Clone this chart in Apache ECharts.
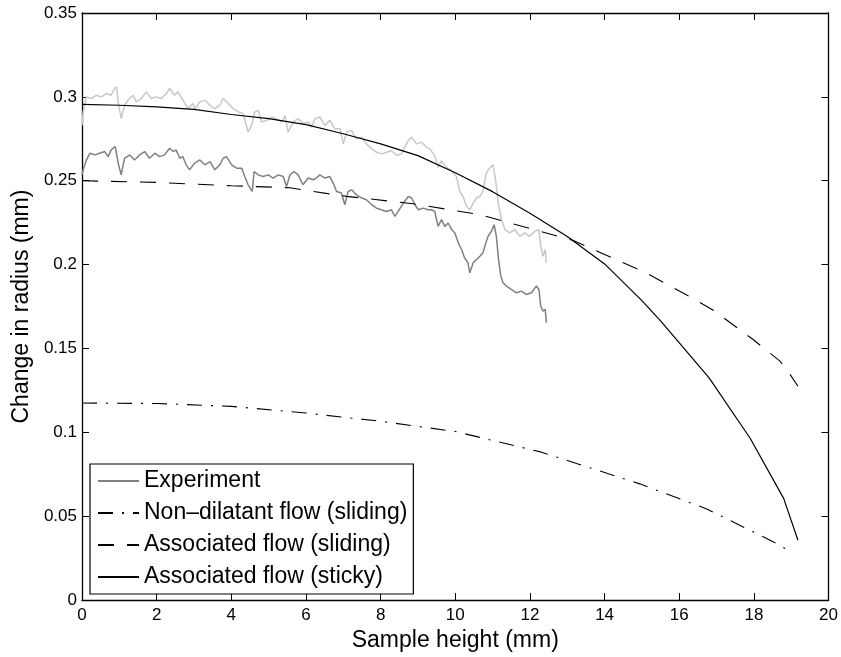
<!DOCTYPE html>
<html>
<head>
<meta charset="utf-8">
<script src="https://cdn.jsdelivr.net/npm/echarts@6/dist/echarts.min.js"></script>
<style>
  html, body { margin: 0; padding: 0; background: #fff; }
  #chart { width: 841px; height: 657px; }
</style>
</head>
<body>
<div id="chart"></div>
<script>
// Measured radius change, upper run (light trace)
const expUpperX = [0.00,0.03,0.12,0.25,0.38,0.52,0.65,0.78,0.87,0.93,0.96,1.05,1.14,1.23,1.37,1.45,1.59,1.72,1.86,1.99,2.12,2.26,2.35,2.38,2.48,2.57,2.70,2.84,2.97,3.03,3.16,3.29,3.43,3.56,3.69,3.78,3.92,4.05,4.19,4.32,4.45,4.50,4.54,4.63,4.72,4.81,4.95,5.08,5.21,5.35,5.44,5.52,5.66,5.79,5.92,6.06,6.15,6.24,6.37,6.51,6.64,6.77,6.91,7.00,7.09,7.22,7.35,7.49,7.62,7.76,7.89,8.02,8.16,8.29,8.43,8.56,8.65,8.74,8.83,8.96,9.10,9.23,9.32,9.45,9.54,9.63,9.76,9.90,10.03,10.12,10.21,10.30,10.39,10.48,10.57,10.66,10.74,10.83,10.92,11.01,11.08,11.15,11.24,11.33,11.46,11.59,11.73,11.86,11.99,12.13,12.24,12.29,12.35,12.41,12.44];
const expUpperY = [0.283,0.291,0.300,0.299,0.301,0.300,0.302,0.301,0.305,0.306,0.298,0.287,0.295,0.298,0.301,0.297,0.299,0.303,0.299,0.300,0.299,0.302,0.305,0.306,0.301,0.303,0.298,0.293,0.296,0.293,0.297,0.298,0.295,0.293,0.295,0.299,0.296,0.293,0.291,0.290,0.279,0.278,0.283,0.291,0.292,0.285,0.286,0.288,0.287,0.285,0.289,0.279,0.285,0.287,0.284,0.285,0.282,0.287,0.288,0.283,0.286,0.281,0.281,0.272,0.279,0.280,0.275,0.276,0.272,0.269,0.267,0.266,0.267,0.268,0.265,0.266,0.270,0.274,0.276,0.272,0.273,0.270,0.269,0.265,0.258,0.262,0.258,0.256,0.2525,0.2436,0.2406,0.2347,0.2327,0.2367,0.2397,0.2406,0.2436,0.2545,0.2575,0.2595,0.2506,0.2367,0.2268,0.2209,0.2189,0.2209,0.2169,0.2189,0.2169,0.2198,0.2209,0.2109,0.205,0.209,0.201];

// Measured radius change, lower run (dark trace)
const expLowerX = [0.00,0.03,0.12,0.21,0.34,0.47,0.61,0.70,0.78,0.89,0.98,1.05,1.14,1.28,1.41,1.54,1.68,1.81,1.95,2.08,2.21,2.35,2.44,2.52,2.62,2.70,2.79,2.88,3.02,3.16,3.29,3.43,3.56,3.69,3.78,3.87,4.01,4.14,4.28,4.36,4.45,4.56,4.61,4.72,4.85,4.99,5.12,5.26,5.39,5.48,5.57,5.68,5.79,5.92,6.06,6.19,6.28,6.37,6.51,6.64,6.73,6.82,6.95,7.04,7.13,7.22,7.35,7.49,7.62,7.76,7.89,8.02,8.16,8.29,8.38,8.47,8.61,8.74,8.83,8.92,9.01,9.14,9.27,9.36,9.45,9.54,9.63,9.72,9.81,9.90,9.99,10.08,10.17,10.25,10.34,10.39,10.48,10.57,10.66,10.74,10.82,10.88,10.97,11.04,11.10,11.16,11.22,11.28,11.37,11.50,11.64,11.77,11.90,12.04,12.17,12.24,12.29,12.35,12.41,12.44];
const expLowerY = [0.2535,0.2565,0.2624,0.2664,0.2654,0.2664,0.2674,0.2644,0.2684,0.2704,0.2595,0.2535,0.2634,0.2654,0.2624,0.2654,0.2674,0.2634,0.2664,0.2644,0.2654,0.2694,0.2674,0.2684,0.2634,0.2644,0.2595,0.2565,0.2605,0.2624,0.2595,0.2614,0.2565,0.2595,0.2634,0.2644,0.2595,0.2575,0.2575,0.2525,0.2476,0.2436,0.2555,0.2535,0.2525,0.2535,0.2516,0.2535,0.2525,0.2466,0.2535,0.2555,0.2535,0.2476,0.2516,0.2506,0.2516,0.2535,0.2516,0.2525,0.2486,0.2436,0.2427,0.2357,0.2436,0.2446,0.2417,0.2397,0.2387,0.2357,0.2337,0.2327,0.2317,0.2327,0.2288,0.2317,0.2367,0.2406,0.2397,0.2357,0.2327,0.2337,0.2327,0.2327,0.2317,0.2228,0.2268,0.2228,0.2248,0.2209,0.2189,0.2130,0.2090,0.2040,0.2011,0.1951,0.2011,0.2030,0.2050,0.2070,0.2130,0.2169,0.2199,0.2238,0.2169,0.2030,0.1931,0.1892,0.1872,0.1852,0.1832,0.1842,0.1822,0.1832,0.1872,0.1852,0.1753,0.1723,0.1733,0.1654];

// Non-dilatant flow model (sliding)
const nonDilX = [0, 2, 4, 6, 8, 10, 12.31, 14.94, 16.72, 18.5, 19.04];
const nonDilY = [0.1175, 0.1172, 0.1155, 0.1115, 0.1066, 0.1005, 0.0882, 0.0693, 0.0545, 0.035, 0.0283];

// Associated flow model (sliding)
const assocSlideX = [0, 2, 4, 5.57, 6.19, 7.09, 8.86, 10.66, 12.26, 13.15, 14.31, 15.12, 16.19, 16.9, 17.97, 18.69, 18.88, 19.18];
const assocSlideY = [0.25, 0.249, 0.247, 0.2458, 0.2436, 0.2407, 0.2363, 0.2298, 0.2199, 0.2145, 0.203, 0.195, 0.182, 0.173, 0.1555, 0.1426, 0.1375, 0.1275];

// Associated flow model (sticky)
const assocStickX = [0, 1, 2, 3, 4, 5, 6, 7, 8, 9, 10, 11, 12, 13, 14, 15, 15.5, 16.8, 17.9, 18.8, 19.18];
const assocStickY = [0.2955, 0.295, 0.294, 0.2925, 0.2895, 0.287, 0.2835, 0.278, 0.272, 0.265, 0.2548, 0.2435, 0.2306, 0.2168, 0.2004, 0.1785, 0.1665, 0.1325, 0.0965, 0.0605, 0.0357];

// Axis ticks
const xTicks = { min: 0, max: 20, interval: 2 };
const yTicks = { min: 0, max: 0.35, interval: 0.05 };

const seriesNames = ['Experiment', 'Non\u2013dilatant flow (sliding)', 'Associated flow (sliding)', 'Associated flow (sticky)'];

function zip(xs, ys) { return xs.map((x, i) => [x, ys[i]]); }

const FONT = '"Liberation Sans", Arial, Helvetica, sans-serif';

const axisLineStyle = { color: '#000', width: 1.3 };
function xAxisDef(pos, showLabels) {
  return {
    type: 'value', position: pos, min: xTicks.min, max: xTicks.max, interval: xTicks.interval,
    axisLine: { show: true, onZero: false, lineStyle: axisLineStyle },
    axisTick: { show: true, inside: true, length: 7, lineStyle: { color: '#000', width: 1 } },
    axisLabel: { show: showLabels, color: '#000', fontSize: 17, fontFamily: FONT, margin: 7 },
    splitLine: { show: false },
    name: showLabels ? 'Sample height (mm)' : '',
    nameLocation: 'middle', nameGap: 28,
    nameTextStyle: { color: '#000', fontSize: 23, fontFamily: FONT }
  };
}
function yAxisDef(pos, showLabels) {
  return {
    type: 'value', position: pos, min: yTicks.min, max: yTicks.max, interval: yTicks.interval,
    axisLine: { show: true, onZero: false, lineStyle: axisLineStyle },
    axisTick: { show: true, inside: true, length: 7, lineStyle: { color: '#000', width: 1 } },
    axisLabel: { show: showLabels, color: '#000', fontSize: 17, fontFamily: FONT, margin: 5 },
    splitLine: { show: false },
    name: showLabels ? 'Change in radius (mm)' : '',
    nameLocation: 'middle', nameGap: 48,
    nameTextStyle: { color: '#000', fontSize: 23, fontFamily: FONT }
  };
}

const chart = echarts.init(document.getElementById('chart'), null, { renderer: 'canvas' });
chart.setOption({
  animation: false,
  backgroundColor: '#fff',
  grid: { left: 82, right: 12, top: 13, bottom: 55, containLabel: false },
  xAxis: [xAxisDef('bottom', true), xAxisDef('top', false)],
  yAxis: [yAxisDef('left', true), yAxisDef('right', false)],
  legend: {
    orient: 'vertical', left: 90, top: 464,
    data: seriesNames,
    itemWidth: 41, itemHeight: 14, itemGap: 8,
    padding: [5, 6, 5, 7],
    backgroundColor: '#fff', borderColor: '#000', borderWidth: 1.2,
    itemStyle: { opacity: 0, borderWidth: 0 },
    textStyle: { color: '#000', fontSize: 23, fontFamily: FONT, lineHeight: 24 },
    selectedMode: false
  },
  series: [
    {
      name: seriesNames[0], type: 'line', data: zip(expLowerX, expLowerY),
      symbol: 'none', lineStyle: { color: '#808080', width: 1.5 }, itemStyle: { color: '#808080' }, z: 2
    },
    {
      name: seriesNames[0], type: 'line', data: zip(expUpperX, expUpperY),
      symbol: 'none', lineStyle: { color: '#c8c8c8', width: 1.5 }, itemStyle: { color: '#c8c8c8' }, z: 2
    },
    {
      name: seriesNames[1], type: 'line', data: zip(nonDilX, nonDilY),
      symbol: 'none', lineStyle: { color: '#000', width: 1.1, type: [15, 9, 2, 9] }, itemStyle: { color: '#000' }, z: 3
    },
    {
      name: seriesNames[2], type: 'line', data: zip(assocSlideX, assocSlideY),
      symbol: 'none', lineStyle: { color: '#000', width: 1.1, type: [16, 13] }, itemStyle: { color: '#000' }, z: 3
    },
    {
      name: seriesNames[3], type: 'line', data: zip(assocStickX, assocStickY),
      symbol: 'none', lineStyle: { color: '#000', width: 1.2 }, itemStyle: { color: '#000' }, z: 3
    }
  ]
});
</script>
</body>
</html>
